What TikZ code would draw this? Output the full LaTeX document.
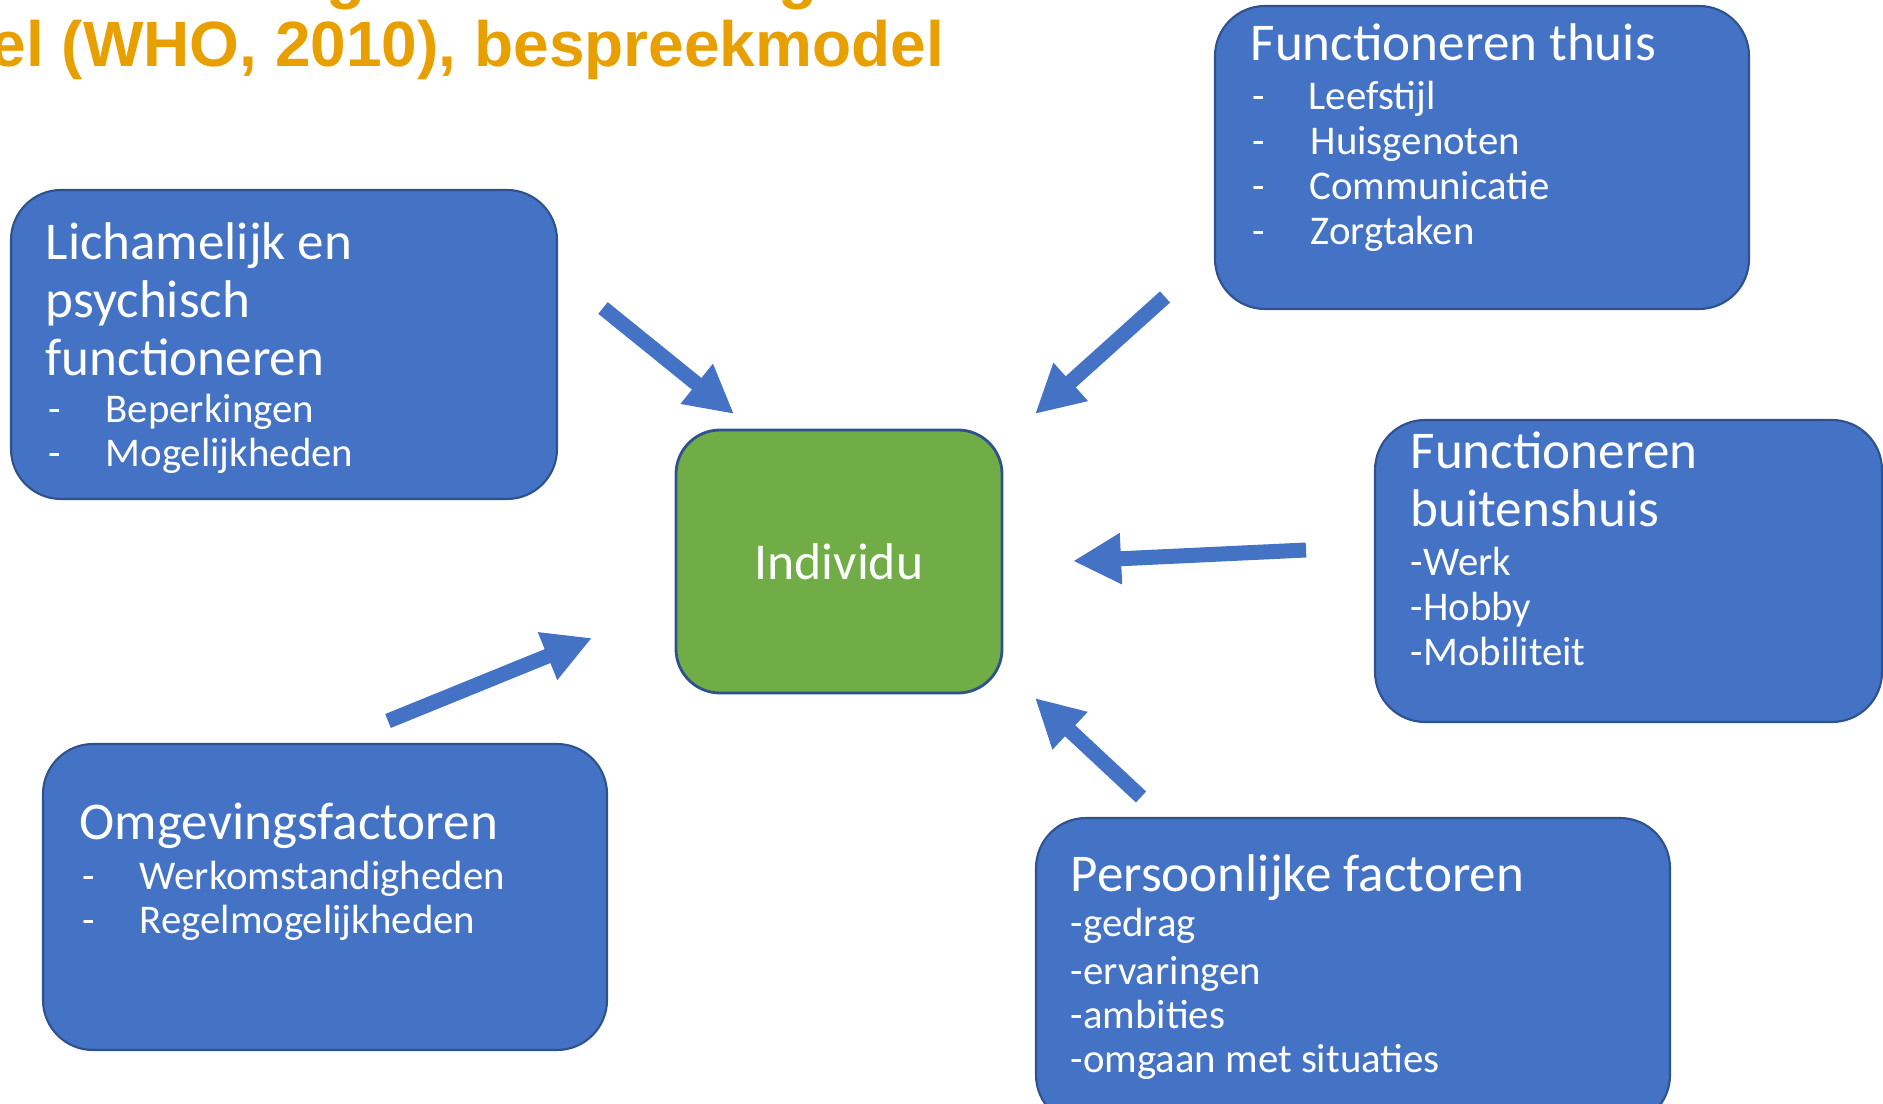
\documentclass[tikz,border=0pt]{standalone}
\usepackage{fontspec}
\setmainfont{Carlito}
\newfontfamily\titlefont{Liberation Sans}
\usetikzlibrary{arrows.meta,fit}
\definecolor{boxblue}{HTML}{4472C4}
\definecolor{boxedge}{HTML}{2F528F}
\definecolor{indgreen}{HTML}{70AD47}
\definecolor{titleorange}{HTML}{E8A000}
\begin{document}
\begin{tikzpicture}[x=0.01cm,y=-0.01cm,
  bluebox/.style={inner sep=0pt, rectangle, rounded corners=0.5cm, fill=boxblue, draw=boxedge, line width=0.6pt},
  greenbox/.style={inner sep=0pt, rectangle, rounded corners=0.44cm, fill=indgreen, draw=boxedge, line width=0.8pt},
  indtext/.style={anchor=base, inner sep=0pt, text=white, font=\fontsize{14.7}{16}\selectfont},
  hd/.style={anchor=base west, inner sep=0pt, text=white, font=\fontsize{15.1}{16}\selectfont},
  itm/.style={anchor=base west, inner sep=0pt, text=white, font=\fontsize{11.6}{13}\selectfont},
  ttl/.style={anchor=base west, inner sep=0pt, text=titleorange, font=\titlefont\bfseries\fontsize{18.2}{20}\selectfont},
  arr/.style={color=boxblue, line width=0.15cm, -{Triangle[length=0.48cm,width=0.48cm]}}
]
\useasboundingbox (0,0) rectangle (1883,1104);
\clip (0,0) rectangle (1883,1104);

% title (cut off)
\node[ttl] (title) at (-10,67) {el (WHO, 2010), bespreekmodel};
\node[ttl, anchor=base] (g1) at (346,-3) {g};
\node[ttl, anchor=base] (g2) at (798,-3) {g};

% boxes
\node[bluebox, fit={(11,190)(557,499)}] (lich) {};
\node[bluebox, fit={(1215,6)(1749,309)}] (thuis) {};
\node[bluebox, fit={(1375,420)(1882,722)}] (buiten) {};
\node[bluebox, fit={(43,744)(607,1050)}] (omg) {};
\node[bluebox, fit={(1036,818)(1670,1125)}] (pers) {};
\node[greenbox, fit={(676,430)(1002,693)}] (ind) {};
\node[indtext] (indlabel) at (839,580) {Individu};

% box 1 text
\node[hd] (l1) at (45,260) {Lichamelijk en};
\node[hd] (l2) at (45,318) {psychisch};
\node[hd] (l3) at (45,376) {functioneren};
\node[itm] (l4d) at (48,423) {-};
\node[itm] (l4) at (105,423) {Beperkingen};
\node[itm] (l5d) at (48,467) {-};
\node[itm] (l5) at (105,467) {Mogelijkheden};

% box 2 text
\node[hd] (t1) at (1250,61) {Functioneren thuis};
\node[itm] (t2d) at (1252,110) {-};
\node[itm] (t2) at (1308,110) {Leefstijl};
\node[itm] (t3d) at (1252,155) {-};
\node[itm] (t3) at (1310,155) {Huisgenoten};
\node[itm] (t4d) at (1252,200) {-};
\node[itm] (t4) at (1309,200) {Communicatie};
\node[itm] (t5d) at (1252,245) {-};
\node[itm] (t5) at (1310,245) {Zorgtaken};

% box 3 text
\node[hd] (b1) at (1410,469) {Functioneren};
\node[hd] (b2) at (1410,527) {buitenshuis};
\node[itm] (b3) at (1410,576) {-Werk};
\node[itm] (b4) at (1410,621) {-Hobby};
\node[itm] (b5) at (1410,666) {-Mobiliteit};

% box 4 text
\node[hd] (o1) at (79,839) {Omgevingsfactoren};
\node[itm] (o2d) at (82,889) {-};
\node[itm] (o2) at (139,889) {Werkomstandigheden};
\node[itm] (o3d) at (82,933) {-};
\node[itm] (o3) at (139,933) {Regelmogelijkheden};

% box 5 text
\node[hd] (p1) at (1070,891) {Persoonlijke factoren};
\node[itm] (p2) at (1070,936) {-gedrag};
\node[itm] (p3) at (1070,984) {-ervaringen};
\node[itm] (p4) at (1070,1028) {-ambities};
\node[itm] (p5) at (1070,1072) {-omgaan met situaties};

% arrows
\coordinate (a1s) at (603,308); \coordinate (a1e) at (734,414);
\coordinate (a2s) at (1165,297); \coordinate (a2e) at (1035,414);
\coordinate (a3s) at (1306,550); \coordinate (a3e) at (1073,561);
\coordinate (a4s) at (1141,797); \coordinate (a4e) at (1035,698);
\coordinate (a5s) at (388,721); \coordinate (a5e) at (592,638);
\draw[arr] (a1s) -- (a1e);
\draw[arr] (a2s) -- (a2e);
\draw[arr] (a3s) -- (a3e);
\draw[arr] (a4s) -- (a4e);
\draw[arr] (a5s) -- (a5e);
\end{tikzpicture}
\end{document}
